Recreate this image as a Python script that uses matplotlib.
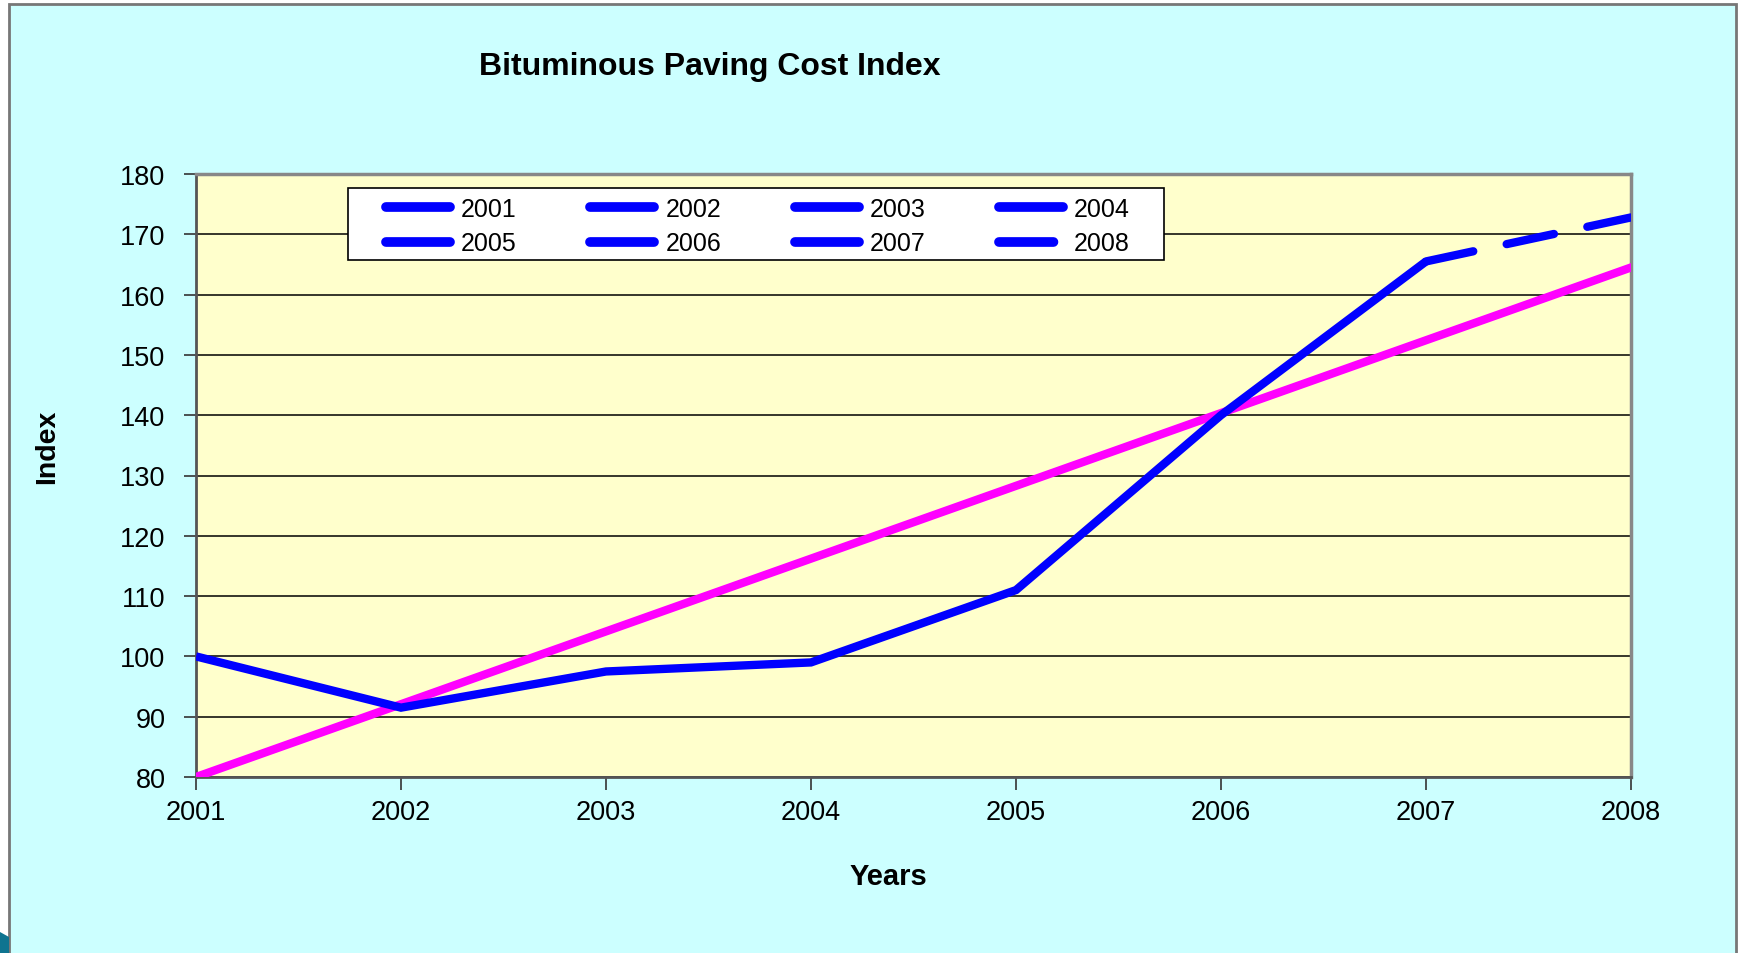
import matplotlib.pyplot as plt
from matplotlib.lines import Line2D
from matplotlib.patches import Rectangle, Polygon

plt.rcParams['font.family'] = ['Liberation Sans', 'DejaVu Sans']

years = [2001, 2002, 2003, 2004, 2005, 2006, 2007, 2008]
index_vals = [100, 91.5, 97.5, 99, 111, 140, 165.5, 172.8]
trend_start = 80
trend_end = 164.5
legend_labels = ['2001', '2002', '2003', '2004', '2005', '2006', '2007', '2008']
yticks = list(range(80, 181, 10))

W, H = 1741, 954
fig = plt.figure(figsize=(W / 100, H / 100), dpi=100, facecolor='white')

# cyan background panel with gray border
fig.patches.append(Rectangle((9 / W, -0.02), (1736 - 9) / W, 1.02 - 5 / H,
                             transform=fig.transFigure, facecolor='#CCFFFF',
                             edgecolor='#777777', linewidth=2, zorder=0))
fig.patches.append(Polygon([(0, 0), (9 / W, 0), (9 / W, 1 - 938 / H), (0, 1 - 933 / H)],
                           closed=True, transform=fig.transFigure,
                           facecolor='#0E7490', edgecolor='none', zorder=1))

ax = fig.add_axes([196 / W, 1 - 778 / H, (1631 - 196) / W, (778 - 175) / H])
ax.set_zorder(2)
ax.set_facecolor('#FFFFCC')

blue = '#0000FF'
magenta = '#FF00FF'
lw = 6.0

ax.plot(years[:-1], index_vals[:-1], color=blue, lw=lw, solid_joinstyle='miter',
        solid_capstyle='butt', zorder=4)
ax.plot(years[-2:], index_vals[-2:], color=blue, lw=lw, linestyle=(0, (5.8, 4.1)),
        dash_capstyle='round', zorder=4)
ax.plot([years[0], years[-1]], [trend_start, trend_end], color=magenta, lw=lw, zorder=3)

ax.set_xlim(years[0], years[-1])
ax.set_ylim(80, 180)
ax.set_xticks(years)
ax.set_yticks(yticks)
ax.tick_params(axis='both', labelsize=19.5, length=9, width=1.2, color='#333333',
               direction='out')
ax.tick_params(axis='x', pad=7)
ax.tick_params(axis='y', pad=13)
ax.yaxis.grid(True, color='black', linewidth=1.1)
ax.set_axisbelow(True)
for side in ['top', 'right']:
    ax.spines[side].set_color('#888888')
    ax.spines[side].set_linewidth(2.5)
for side in ['left', 'bottom']:
    ax.spines[side].set_color('#555555')
    ax.spines[side].set_linewidth(2)

fig.text(710 / W, 1 - 67 / H, 'Bituminous Paving Cost Index', fontsize=23,
         fontweight='bold', ha='center', va='center')
fig.text(47 / W, 1 - 447 / H, 'Index', fontsize=20.5, fontweight='bold',
         rotation=90, ha='center', va='center')
fig.text(888 / W, 1 - 877 / H, 'Years', fontsize=21, fontweight='bold',
         ha='center', va='center')

# legend box
fig.patches.append(Rectangle((348 / W, 1 - 261 / H), (1164 - 348) / W, (261 - 189) / H,
                             transform=fig.transFigure, facecolor='white',
                             edgecolor='black', linewidth=1.2, zorder=5))
handles = []
for lab in legend_labels:
    if lab == '2008':
        handles.append(Line2D([], [], color=blue, lw=7, linestyle=(0, (5.6, 4)),
                              dash_capstyle='round'))
    else:
        handles.append(Line2D([], [], color=blue, lw=7, solid_capstyle='round'))
order = [0, 4, 1, 5, 2, 6, 3, 7]
leg = fig.legend([handles[i] for i in order], [legend_labels[i] for i in order],
                 ncol=4, loc='upper left', bbox_to_anchor=(386 / W, 1 - 198 / H),
                 frameon=False, fontsize=18, handlelength=2.56, handletextpad=0.45,
                 columnspacing=2.93, labelspacing=0.42, borderpad=0, borderaxespad=0)
leg.set_zorder(6)

fig.savefig('out.png', dpi=100, facecolor=fig.get_facecolor())
